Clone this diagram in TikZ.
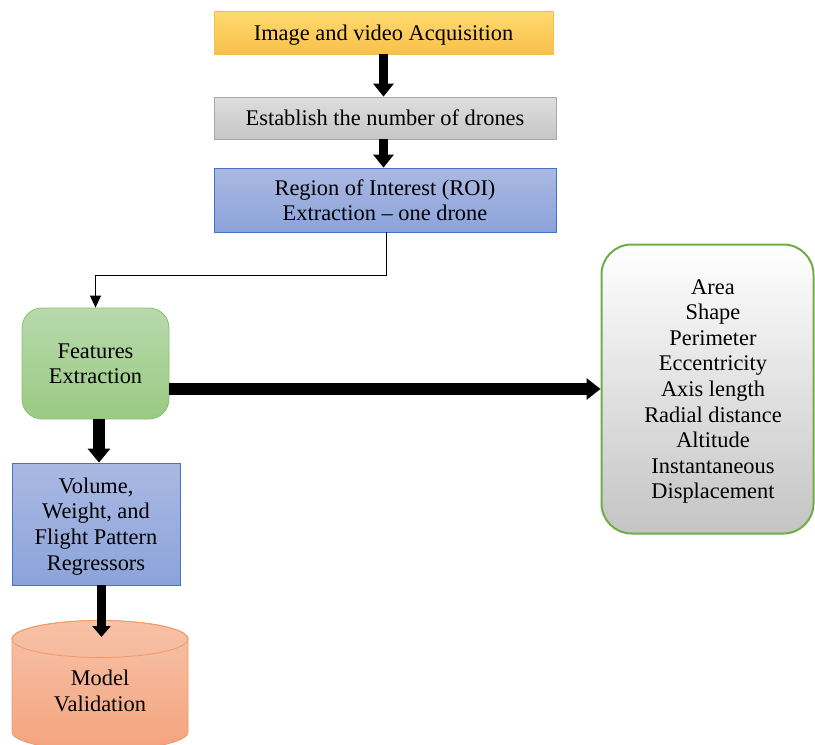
\documentclass[tikz,border=0pt]{standalone}
\usepackage{fontspec}
\setmainfont{Liberation Serif}
\usetikzlibrary{arrows.meta,shadings,calc}
\definecolor{yTop}{HTML}{FFDA70}
\definecolor{yBot}{HTML}{F9C04A}
\definecolor{yBrd}{HTML}{F5C04A}
\definecolor{gTop}{HTML}{DEDEDE}
\definecolor{gBot}{HTML}{C6C6C6}
\definecolor{gBrd}{HTML}{A8A8A8}
\definecolor{bTop}{HTML}{AAB9E2}
\definecolor{bBot}{HTML}{8CA3DA}
\definecolor{bBrd}{HTML}{4472C4}
\definecolor{grTop}{HTML}{B8D9AC}
\definecolor{grBot}{HTML}{99CA82}
\definecolor{grBrd}{HTML}{8CC06C}
\definecolor{rBrd}{HTML}{70AD47}
\definecolor{rBot}{HTML}{C4C4C4}
\definecolor{cTop}{HTML}{F7C2A8}
\definecolor{cBot}{HTML}{F4A47E}
\definecolor{cBrd}{HTML}{EE9A68}
\tikzset{
  txt/.style={font=\fontsize{22.4}{25.6}\selectfont, align=center, text=black, text depth=0pt},
  boxbase/.style={txt, rectangle, inner sep=0pt, line width=0.8pt},
  yellowbox/.style={boxbase, draw=yBrd, top color=yTop, bottom color=yBot},
  graybox/.style={boxbase, draw=gBrd, top color=gTop, bottom color=gBot},
  bluebox/.style={boxbase, draw=bBrd, top color=bTop, bottom color=bBot},
  greenbox/.style={boxbase, draw=grBrd, top color=grTop, bottom color=grBot, rounded corners=20pt},
  listbox/.style={rectangle, inner sep=0pt, draw=rBrd, line width=2pt, top color=white, bottom color=rBot, rounded corners=30pt},
  bigarrow/.style={draw=black, -{Triangle[width=20pt,length=13pt]}},
  thinarrow/.style={draw=black, line width=1pt, -{Triangle[width=11pt,length=12pt]}},
}
\begin{document}
\begin{tikzpicture}[x=1pt,y=-1pt]
\useasboundingbox (0,0) rectangle (815,745);
\clip (0,0) rectangle (815,745);
\node[yellowbox, minimum width=339pt, minimum height=43pt] (b1) at (383.5,32.5) {Image and video Acquisition};
\node[graybox, minimum width=342pt, minimum height=42pt] (b2) at (385,118) {Establish the number of drones};
\node[bluebox, minimum width=342pt, minimum height=64pt] (b3) at (385,200) {Region of Interest (ROI)\\Extraction -- one drone};
\node[greenbox, minimum width=147pt, minimum height=111pt] (feat) at (95.5,363.5) {Features\\Extraction};
\node[listbox, minimum width=212pt, minimum height=289pt] (list) at (707.5,389) {};
\node[txt] (listtxt) at (713,389) {Area\\Shape\\Perimeter\\Eccentricity\\Axis length\\Radial distance\\Altitude\\Instantaneous\\Displacement};
\node[bluebox, minimum width=168pt, minimum height=122pt] (vol) at (96,524) {Volume,\\Weight, and\\Flight Pattern\\Regressors};
% cylinder (normal upward y inside this scope)
\begin{scope}[y=1pt]
\path[top color=cTop, bottom color=cBot, draw=cBrd, line width=0.8pt]
  (12,-639) -- (12,-732) arc[start angle=180, end angle=360, x radius=88, y radius=18.5]
  -- (188,-639) arc[start angle=0, end angle=180, x radius=88, y radius=18.5] -- cycle;
\draw[cBrd, line width=0.8pt] (100,-639) ellipse[x radius=88, y radius=18.5];
\end{scope}
\node[txt] (cyl) at (100,691) {Model\\Validation};
\coordinate (cyltop) at (101.5,637);
% connectors
\draw[bigarrow, line width=8.5pt] (b1.south) -- (b1.south |- b2.north);
\draw[bigarrow, line width=8.5pt] (b1.south |- b2.south) -- (b1.south |- b3.north);
\coordinate (bend) at (386,275);
\draw[thinarrow] ([xshift=1pt]b3.south) -- (bend) -| (feat.north);
\draw[bigarrow, line width=12pt, -{Triangle[width=21pt,length=14pt]}] (feat.east |- list.west) -- (list.west);
\draw[bigarrow, line width=11.5pt, -{Triangle[width=22pt,length=14pt]}] ([xshift=3.5pt]feat.south) -- ([xshift=3.5pt]feat.south |- vol.north);
\draw[bigarrow, line width=9.5pt, -{Triangle[width=18pt,length=11pt]}] ([xshift=5.5pt]vol.south) -- (cyltop);
\end{tikzpicture}
\end{document}
